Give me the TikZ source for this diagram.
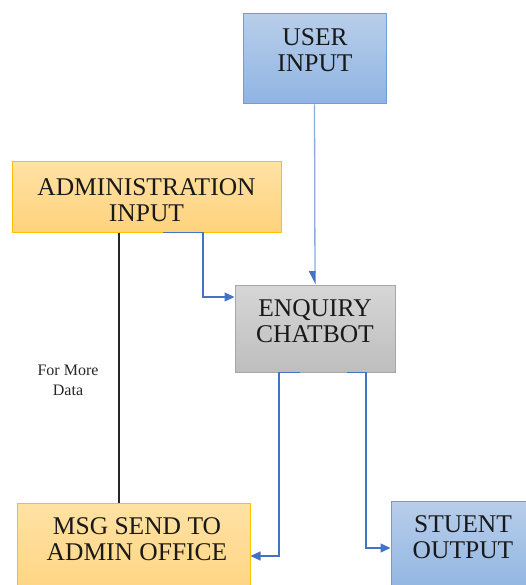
\documentclass[tikz,border=0pt]{standalone}
\usepackage{fontspec}
\setmainfont{Liberation Serif}
\usetikzlibrary{arrows.meta}
\definecolor{bluebd}{HTML}{6D9EDA}
\definecolor{bluetop}{HTML}{B8CEEA}
\definecolor{bluebot}{HTML}{8FB4E2}
\definecolor{orgbd}{HTML}{FFC000}
\definecolor{orgtop}{HTML}{FFE2A4}
\definecolor{orgbot}{HTML}{FFD27C}
\definecolor{graybd}{HTML}{A6A6A6}
\definecolor{graytop}{HTML}{D6D6D6}
\definecolor{graybot}{HTML}{BEBEBE}
\definecolor{linkblue}{HTML}{4472C4}
\definecolor{lightlink}{HTML}{8EAADB}
\begin{document}
\begin{tikzpicture}[x=1pt,y=-1pt,
    box/.style={draw, line width=1pt, inner sep=0pt},
    bluebox/.style={box, draw=bluebd, top color=bluetop, bottom color=bluebot},
    orgbox/.style={box, draw=orgbd, top color=orgtop, bottom color=orgbot},
    graybox/.style={box, draw=graybd, top color=graytop, bottom color=graybot},
    txt/.style={align=center, inner sep=0pt, text=black!90, font=\fontsize{25.5}{26}\selectfont},
    link/.style={draw=linkblue, line width=1.3pt, -{Triangle[length=10pt,width=9pt]}}]
    \clip (0,0) rectangle (526,585);
    % boxes
    \node[bluebox, minimum width=143pt, minimum height=90pt] (user) at (314.5,59) {};
    \node[orgbox, minimum width=269pt, minimum height=70pt] (admin) at (146.5,197) {};
    \node[graybox, minimum width=160pt, minimum height=87pt] (chat) at (315,328.5) {};
    \node[orgbox, minimum width=233pt, minimum height=106pt] (msg) at (133.5,556) {};
    \node[bluebox, minimum width=139pt, minimum height=94pt] (stud) at (460.5,548) {};
    % texts
    \node[txt] (usertxt) at (315,50.5) {USER\\INPUT};
    \node[txt] (admintxt) at (146.5,200.5) {ADMINISTRATION\\INPUT};
    \node[txt] (chattxt) at (315,321.5) {ENQUIRY\\CHATBOT};
    \node[txt] (msgtxt) at (137,539) {MSG SEND TO\\ADMIN OFFICE};
    \node[txt] (studtxt) at (463,537.5) {STUENT\\OUTPUT};
    % connectors
    \draw[draw=lightlink, line width=1.3pt, -{Triangle[harpoon,swap,length=12pt,width=12pt,color=linkblue]}] (user.south) -- (chat.north);
    \draw[link] ([xshift=16.5pt]admin.south) -- ++(40,0) |- ([yshift=31.5pt]chat.west);
    \draw[black!85, line width=1.1pt] ([xshift=-27.5pt]admin.south) -- node[pos=0.548, left=20pt, inner sep=0pt, align=center, font=\fontsize{16}{20}\selectfont] {For More\\Data} ([xshift=-14.5pt]msg.north);
    \draw[link] ([xshift=-15pt]chat.south) -- ++(-21,0) |- (msg.east);
    \draw[link] ([xshift=32pt]chat.south) -- ++(19,0) |- (stud.west);
\end{tikzpicture}
\end{document}
